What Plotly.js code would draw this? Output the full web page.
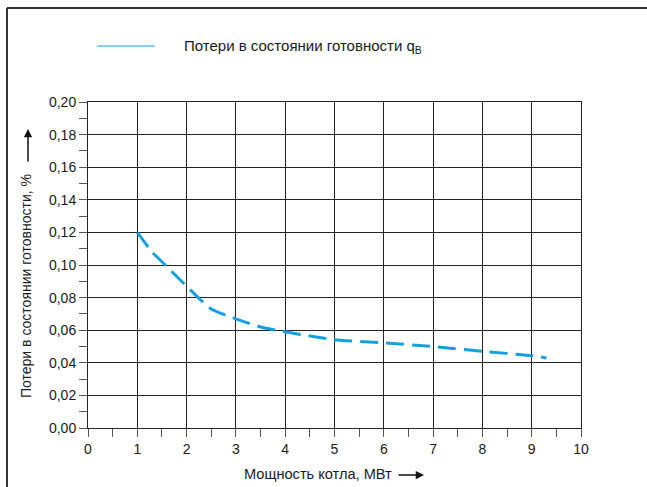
<!DOCTYPE html>
<html>
<head>
<meta charset="utf-8">
<script src="https://cdn.plot.ly/plotly-3.0.1.min.js"></script>
<style>html,body{margin:0;padding:0;background:#fff;}#chart{width:647px;height:487px;}</style>
</head>
<body>
<div id="chart"></div>
<script>
// Data
var powerMW = [1, 1.3, 1.5, 2, 2.5, 3, 3.5, 4, 4.5, 5, 6, 7, 8, 9, 9.3];
var lossPct = [0.120, 0.108, 0.102, 0.087, 0.073, 0.067, 0.062, 0.059, 0.0565, 0.0542, 0.0522, 0.050, 0.047, 0.0444, 0.0429];
var xTickVals = [0, 1, 2, 3, 4, 5, 6, 7, 8, 9, 10];
var yTickVals = [0, 0.02, 0.04, 0.06, 0.08, 0.10, 0.12, 0.14, 0.16, 0.18, 0.20];
var legendText = 'Потери в состоянии готовности q<sub>B</sub>';
var xTitle = 'Мощность котла, МВт';
var yTitle = 'Потери в состоянии готовности, %';

var font = 'Liberation Sans, Arial, sans-serif';
var trace = {
  x: powerMW, y: lossPct, type: 'scatter', mode: 'lines',
  line: {color: '#169fe0', width: 3, dash: '18px,8px', shape: 'spline', smoothing: 0.6},
  showlegend: false, hoverinfo: 'skip'
};

function px(x) { return (x - 88) / 493; }
function py(y) { return (428 - y) / 326; }

var layout = {
  width: 647, height: 487,
  margin: {l: 88, r: 66, t: 102, b: 59},
  paper_bgcolor: '#fff', plot_bgcolor: '#fff',
  separators: ', ',
  font: {family: font, size: 14, color: '#1a1a1a'},
  showlegend: false,
  xaxis: {
    range: [0, 10], tickvals: xTickVals, ticktext: xTickVals.map(String),
    showgrid: true, gridcolor: '#222', gridwidth: 1,
    showline: true, linecolor: '#222', linewidth: 1, mirror: true,
    ticks: 'outside', ticklen: 8, tickcolor: '#555', tickwidth: 1,
    minor: {dtick: 0.5, ticks: 'outside', ticklen: 8, tickcolor: '#555', showgrid: false},
    zeroline: false, tickfont: {size: 14, family: font, color: '#1a1a1a'}
  },
  yaxis: {
    range: [0, 0.2], tickvals: yTickVals, tickformat: '.2f',
    showgrid: true, gridcolor: '#222', gridwidth: 1,
    showline: true, linecolor: '#222', linewidth: 1, mirror: true,
    ticks: 'outside', ticklen: 8, tickcolor: '#555', tickwidth: 1,
    minor: {dtick: 0.01, ticks: 'outside', ticklen: 8, tickcolor: '#555', showgrid: false},
    zeroline: false, tickfont: {size: 14, family: font, color: '#1a1a1a'}
  },
  shapes: [
    {type: 'line', xref: 'paper', yref: 'paper', x0: px(7), x1: px(660), y0: py(8), y1: py(8), line: {color: '#333', width: 2}},
    {type: 'line', xref: 'paper', yref: 'paper', x0: px(7), x1: px(7), y0: py(8), y1: py(500), line: {color: '#333', width: 2}},
    {type: 'line', xref: 'paper', yref: 'paper', x0: px(97), x1: px(155), y0: py(46), y1: py(46), line: {color: '#62c2ee', width: 1.5}}
  ],
  annotations: [
    {xref: 'paper', yref: 'paper', x: px(182), y: py(46), xanchor: 'left', yanchor: 'middle', text: legendText, showarrow: false, font: {size: 15, family: font, color: '#1a1a1a'}},
    {xref: 'paper', yref: 'paper', x: px(242), y: py(474), xanchor: 'left', yanchor: 'middle', text: xTitle, showarrow: false, font: {size: 14.6, family: font, color: '#1a1a1a'}},
    {xref: 'paper', yref: 'paper', x: px(424), y: py(475), ax: px(397), ay: py(475), axref: 'paper', ayref: 'paper', text: '', showarrow: true, arrowhead: 2, arrowsize: 1.1, arrowwidth: 1.5, arrowcolor: '#111'},
    {xref: 'paper', yref: 'paper', x: px(26), y: py(286), xanchor: 'center', yanchor: 'middle', textangle: -90, text: yTitle, showarrow: false, font: {size: 14, family: font, color: '#1a1a1a'}},
    {xref: 'paper', yref: 'paper', x: px(28), y: py(129), ax: px(28), ay: py(163), axref: 'paper', ayref: 'paper', text: '', showarrow: true, arrowhead: 2, arrowsize: 1.1, arrowwidth: 1.5, arrowcolor: '#111'}
  ]
};

Plotly.newPlot('chart', [trace], layout, {staticPlot: true, displayModeBar: false});
</script>
</body>
</html>
